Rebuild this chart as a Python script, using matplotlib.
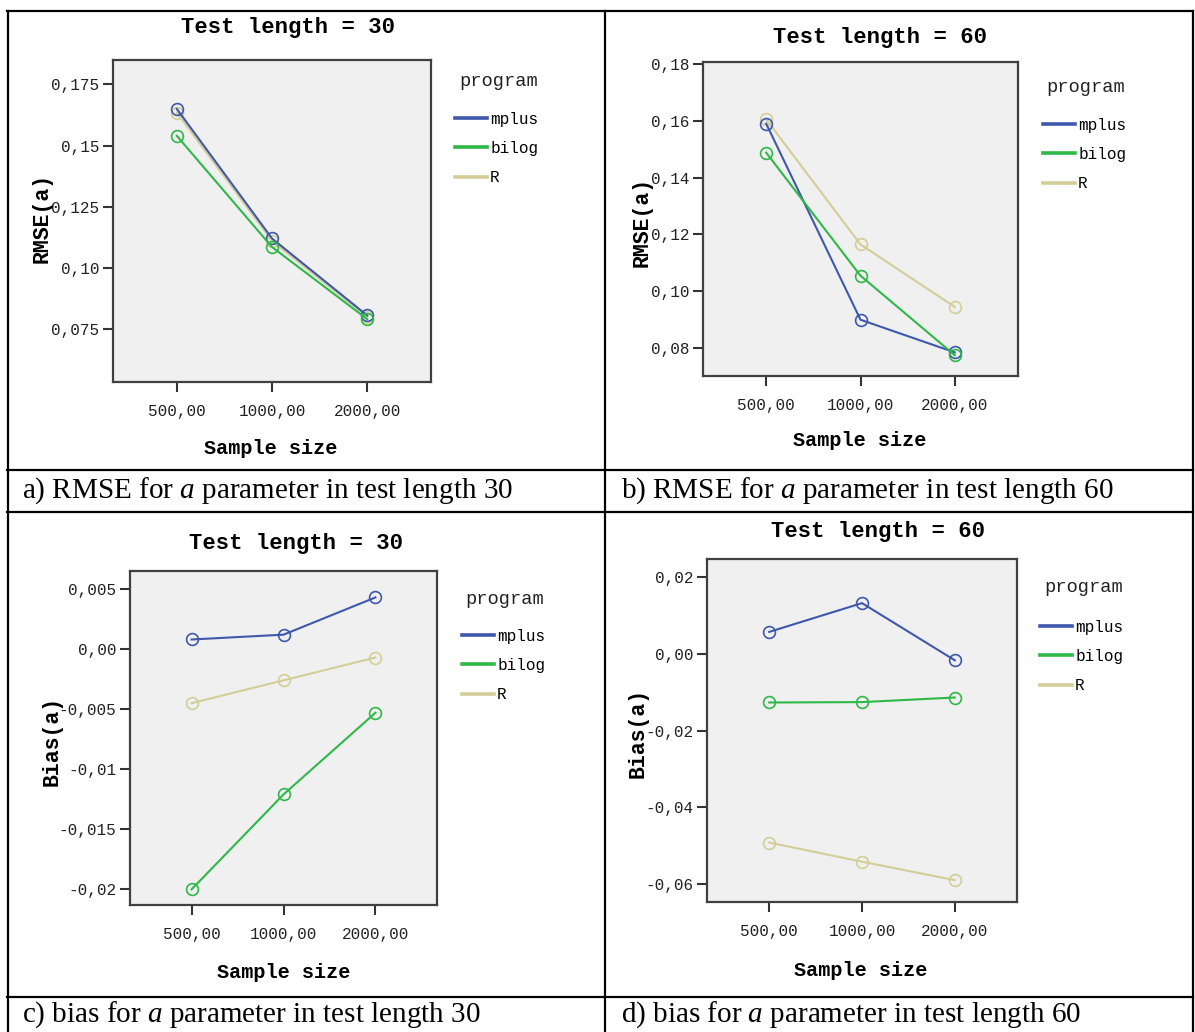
"""
Four SPSS-style line charts (RMSE and bias of the a parameter) in a table layout
"""
import matplotlib
matplotlib.use("Agg")
import matplotlib.pyplot as plt
from matplotlib.lines import Line2D

plt.rcParams['mathtext.fontset'] = 'custom'
plt.rcParams['mathtext.rm'] = 'Liberation Serif'
plt.rcParams['mathtext.it'] = 'Liberation Serif:italic'

# Data
sample_sizes = ['500,00', '1000,00', '2000,00']
programs = ['mplus', 'bilog', 'R']
colors = {'mplus': '#3E58AC', 'bilog': '#2EB848', 'R': '#D3CE97'}

rmse30_mplus = [0.1650, 0.1120, 0.0805]
rmse30_bilog = [0.1540, 0.1085, 0.0790]
rmse30_R = [0.1635, 0.1110, 0.0800]

rmse60_mplus = [0.1590, 0.0900, 0.0785]
rmse60_bilog = [0.1488, 0.1055, 0.0775]
rmse60_R = [0.1605, 0.1165, 0.0945]

bias30_mplus = [0.0008, 0.0012, 0.0043]
bias30_bilog = [-0.0200, -0.0121, -0.0053]
bias30_R = [-0.0045, -0.0026, -0.0007]

bias60_mplus = [0.0057, 0.0132, -0.0017]
bias60_bilog = [-0.0127, -0.0126, -0.0114]
bias60_R = [-0.0492, -0.0542, -0.0590]

rmse30_ticks = [0.075, 0.10, 0.125, 0.15, 0.175]
rmse30_labels = ['0,075', '0,10', '0,125', '0,15', '0,175']
rmse60_ticks = [0.08, 0.10, 0.12, 0.14, 0.16, 0.18]
rmse60_labels = ['0,08', '0,10', '0,12', '0,14', '0,16', '0,18']
bias30_ticks = [-0.02, -0.015, -0.01, -0.005, 0.0, 0.005]
bias30_labels = ['-0,02', '-0,015', '-0,01', '-0,005', '0,00', '0,005']
bias60_ticks = [-0.06, -0.04, -0.02, 0.0, 0.02]
bias60_labels = ['-0,06', '-0,04', '-0,02', '0,00', '0,02']

captions = [
    'a) RMSE for $\\mathit{a}$ parameter in test length 30',
    'b) RMSE for $\\mathit{a}$ parameter in test length 60',
    'c) bias for $\\mathit{a}$ parameter in test length 30',
    'd) bias for $\\mathit{a}$ parameter in test length 60',
]

W, H = 1195, 1032
MONO = 'Liberation Mono'


def fx(px):
    return px / W


def fy(py):
    return 1 - py / H


def draw_panel(fig, box, series, ylim, yticks, ylabels, title, ylabel,
               title_pos, ylabel_pos, xlabel_pos, legend_title_pos, legend_pos):
    left, right, top, bottom = box
    ax = fig.add_axes([fx(left), fy(bottom), (right - left) / W, (bottom - top) / H])
    ax.set_facecolor('#F0F0F0')
    xs = range(len(sample_sizes))
    for name in ['R', 'mplus', 'bilog']:
        ax.plot(xs, series[name], color=colors[name], lw=1.5, marker='o',
                ms=8.5, mfc='none', mew=1.2, mec=colors[name])
    ax.set_xlim(-0.67, 2.67)
    ax.set_ylim(*ylim)
    ax.set_xticks(list(xs))
    ax.set_xticklabels(sample_sizes, fontfamily=MONO, fontsize=11.5, color='#222222')
    ax.set_yticks(yticks)
    ax.set_yticklabels(ylabels, fontfamily=MONO, fontsize=11.5, color='#222222')
    ax.tick_params(axis='both', direction='out', length=7, width=1.5, color='#333333', pad=3)
    ax.tick_params(axis='x', pad=9)
    for sp in ax.spines.values():
        sp.set_color('#404040')
        sp.set_linewidth(1.6)

    fig.text(fx(title_pos[0]), fy(title_pos[1]), title, ha='center', va='center',
             fontfamily=MONO, fontweight='bold', fontsize=16)
    fig.text(fx(ylabel_pos[0]), fy(ylabel_pos[1]), ylabel, ha='center', va='center',
             rotation=90, fontfamily=MONO, fontweight='bold', fontsize=15.5)
    fig.text(fx(xlabel_pos[0]), fy(xlabel_pos[1]), 'Sample size', ha='center', va='center',
             fontfamily=MONO, fontweight='bold', fontsize=14.5)

    fig.text(fx(legend_title_pos[0]), fy(legend_title_pos[1]), 'program',
             ha='left', va='center', fontfamily=MONO, fontsize=13.5, color='#222222')
    handles = [Line2D([], [], color=colors[p], lw=2.6) for p in programs]
    ax.legend(handles, programs, loc='upper left',
              bbox_to_anchor=(fx(legend_pos[0]), fy(legend_pos[1])),
              bbox_transform=fig.transFigure, frameon=False,
              borderpad=0, borderaxespad=0, handlelength=2.0,
              handletextpad=0.2, labelspacing=0.88,
              prop={'family': MONO, 'size': 11.5})
    return ax


fig = plt.figure(figsize=(W / 100, H / 100), dpi=100)

draw_panel(fig, (113, 431, 60, 382),
           {'mplus': rmse30_mplus, 'bilog': rmse30_bilog, 'R': rmse30_R},
           (0.0533, 0.185), rmse30_ticks, rmse30_labels,
           'Test length = 30', 'RMSE(a)',
           (288, 27), (42, 218), (271, 448), (459, 81), (455, 112))

draw_panel(fig, (703, 1018, 62, 376),
           {'mplus': rmse60_mplus, 'bilog': rmse60_bilog, 'R': rmse60_R},
           (0.0702, 0.1807), rmse60_ticks, rmse60_labels,
           'Test length = 60', 'RMSE(a)',
           (880, 37), (642, 222), (860, 440), (1046, 88), (1043, 118))

draw_panel(fig, (130, 437, 571, 905),
           {'mplus': bias30_mplus, 'bilog': bias30_bilog, 'R': bias30_R},
           (-0.0213, 0.0065), bias30_ticks, bias30_labels,
           'Test length = 30', 'Bias(a)',
           (296, 544), (52, 741), (284, 972), (465, 599), (462, 629))

draw_panel(fig, (707, 1017, 559, 902),
           {'mplus': bias60_mplus, 'bilog': bias60_bilog, 'R': bias60_R},
           (-0.0647, 0.0247), bias60_ticks, bias60_labels,
           'Test length = 60', 'Bias(a)',
           (878, 532), (638, 733), (861, 970), (1044, 588), (1040, 620))

# Table grid
lw = 1.6
for y in [11, 470, 512, 997]:
    fig.add_artist(Line2D([fx(7), fx(1193)], [fy(y), fy(y)], color='black', lw=lw))
for x in [7.5, 605, 1193]:
    fig.add_artist(Line2D([fx(x), fx(x)], [fy(11), fy(1032)], color='black', lw=lw))

# Captions
cap_pos = [(22, 491), (621, 491), (22, 1015), (621, 1015)]
for (x, y), cap in zip(cap_pos, captions):
    fig.text(fx(x), fy(y), cap, ha='left', va='center',
             fontfamily='Liberation Serif', fontsize=21)

plt.savefig('out.png', dpi=100)
plt.close()
